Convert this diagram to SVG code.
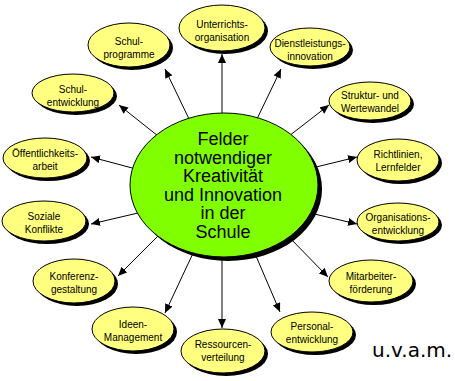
<svg xmlns="http://www.w3.org/2000/svg" width="455" height="381" viewBox="0 0 455 381">
<style>
.bg{fill:#ffffff}
.sh{fill:#000000}
.nd{fill:#ffff80;stroke:#000000;stroke-width:1}
.ctr{fill:#80ff00;stroke:#000000;stroke-width:1}
.t{font-family:"Liberation Sans",Arial,sans-serif;font-size:10px;fill:#000000;text-anchor:middle}
.ct{font-family:"Liberation Sans",Arial,sans-serif;font-size:18px;fill:#000000;text-anchor:middle}
.extra{font-family:"DejaVu Sans",Verdana,sans-serif;font-size:20px;fill:#000000}
.c{stroke:#000000;stroke-width:1;fill:none;marker-end:url(#ah)}
</style>
<defs>
<marker id="ah" markerUnits="userSpaceOnUse" markerWidth="10" markerHeight="8" refX="9" refY="4" orient="auto">
<path d="M0,0 L9,4 L0,8 Z" fill="#000000"/>
</marker>
</defs>
<rect class="bg" x="0" y="0" width="455" height="381"/>
<g id="connectors">
<line class="c" x1="222" y1="120" x2="222" y2="54"/>
<line class="c" x1="190" y1="121" x2="165" y2="69"/>
<line class="c" x1="158" y1="136" x2="119" y2="105"/>
<line class="c" x1="256" y1="121" x2="281" y2="69"/>
<line class="c" x1="289" y1="136" x2="329" y2="105"/>
<line class="c" x1="136" y1="169" x2="91" y2="157"/>
<line class="c" x1="312" y1="168" x2="357" y2="157"/>
<line class="c" x1="138" y1="213" x2="91" y2="224"/>
<line class="c" x1="310" y1="213" x2="357" y2="224"/>
<line class="c" x1="158" y1="236" x2="118" y2="276"/>
<line class="c" x1="288" y1="236" x2="328" y2="277"/>
<line class="c" x1="195" y1="249" x2="165" y2="313"/>
<line class="c" x1="253" y1="249" x2="280" y2="312"/>
<line class="c" x1="222" y1="250" x2="222" y2="328"/>
</g>
<g id="center">
<ellipse class="sh" cx="228" cy="189" rx="94" ry="72"/>
<ellipse class="ctr" cx="224" cy="185" rx="94" ry="72"/>
<text class="ct" x="223" y="145">Felder</text>
<text class="ct" x="223" y="163.5">notwendiger</text>
<text class="ct" x="223" y="182">Kreativität</text>
<text class="ct" x="223" y="200.5">und Innovation</text>
<text class="ct" x="223" y="219">in der</text>
<text class="ct" x="223" y="237.5">Schule</text>
</g>
<g id="n-unterricht">
<ellipse class="sh" cx="225" cy="31" rx="43" ry="23"/>
<ellipse class="nd" cx="222" cy="28" rx="43" ry="23"/>
<text class="t" x="222" y="28">Unterrichts-</text>
<text class="t" x="222" y="41">organisation</text>
</g>
<g id="n-schulprogramme">
<ellipse class="sh" cx="132" cy="48" rx="41" ry="22"/>
<ellipse class="nd" cx="129" cy="45" rx="41" ry="22"/>
<text class="t" x="129" y="45">Schul-</text>
<text class="t" x="129" y="58">programme</text>
</g>
<g id="n-dienstleistung">
<ellipse class="sh" cx="313" cy="50" rx="40" ry="19"/>
<ellipse class="nd" cx="310" cy="47" rx="40" ry="19"/>
<text class="t" x="310" y="47">Dienstleistungs-</text>
<text class="t" x="310" y="60">innovation</text>
</g>
<g id="n-schulentwicklung">
<ellipse class="sh" cx="76" cy="96" rx="41" ry="19"/>
<ellipse class="nd" cx="73" cy="93" rx="41" ry="19"/>
<text class="t" x="73" y="93">Schul-</text>
<text class="t" x="73" y="106">entwicklung</text>
</g>
<g id="n-struktur">
<ellipse class="sh" cx="373" cy="104" rx="41" ry="19"/>
<ellipse class="nd" cx="370" cy="101" rx="41" ry="19"/>
<text class="t" x="370" y="99">Struktur- und</text>
<text class="t" x="370" y="112">Wertewandel</text>
</g>
<g id="n-oeffentlichkeit">
<ellipse class="sh" cx="48" cy="161" rx="42" ry="20"/>
<ellipse class="nd" cx="45" cy="158" rx="42" ry="20"/>
<text class="t" x="45" y="157">Öffentlichkeits-</text>
<text class="t" x="45" y="170">arbeit</text>
</g>
<g id="n-richtlinien">
<ellipse class="sh" cx="401" cy="163" rx="41" ry="21"/>
<ellipse class="nd" cx="398" cy="160" rx="41" ry="21"/>
<text class="t" x="398" y="158">Richtlinien,</text>
<text class="t" x="398" y="171">Lernfelder</text>
</g>
<g id="n-soziale">
<ellipse class="sh" cx="47" cy="224" rx="42" ry="20"/>
<ellipse class="nd" cx="44" cy="221" rx="42" ry="20"/>
<text class="t" x="44" y="220">Soziale</text>
<text class="t" x="44" y="233">Konflikte</text>
</g>
<g id="n-organisation">
<ellipse class="sh" cx="401" cy="225" rx="41" ry="19"/>
<ellipse class="nd" cx="398" cy="222" rx="41" ry="19"/>
<text class="t" x="398" y="221">Organisations-</text>
<text class="t" x="398" y="234">entwicklung</text>
</g>
<g id="n-konferenz">
<ellipse class="sh" cx="77" cy="284" rx="41" ry="22"/>
<ellipse class="nd" cx="74" cy="281" rx="41" ry="22"/>
<text class="t" x="74" y="280">Konferenz-</text>
<text class="t" x="74" y="293">gestaltung</text>
</g>
<g id="n-mitarbeiter">
<ellipse class="sh" cx="374" cy="284" rx="42" ry="21"/>
<ellipse class="nd" cx="371" cy="281" rx="42" ry="21"/>
<text class="t" x="371" y="280">Mitarbeiter-</text>
<text class="t" x="371" y="293">förderung</text>
</g>
<g id="n-ideen">
<ellipse class="sh" cx="136" cy="332" rx="41" ry="22"/>
<ellipse class="nd" cx="133" cy="329" rx="41" ry="22"/>
<text class="t" x="133" y="328">Ideen-</text>
<text class="t" x="133" y="341">Management</text>
</g>
<g id="n-personal">
<ellipse class="sh" cx="315" cy="335" rx="41" ry="20"/>
<ellipse class="nd" cx="312" cy="332" rx="41" ry="20"/>
<text class="t" x="312" y="330">Personal-</text>
<text class="t" x="312" y="343">entwicklung</text>
</g>
<g id="n-ressourcen">
<ellipse class="sh" cx="226" cy="354" rx="42" ry="22"/>
<ellipse class="nd" cx="223" cy="351" rx="42" ry="22"/>
<text class="t" x="223" y="348">Ressourcen-</text>
<text class="t" x="223" y="361">verteilung</text>
</g>
<text class="extra" x="372" y="357">u.v.a.m.</text>
</svg>
